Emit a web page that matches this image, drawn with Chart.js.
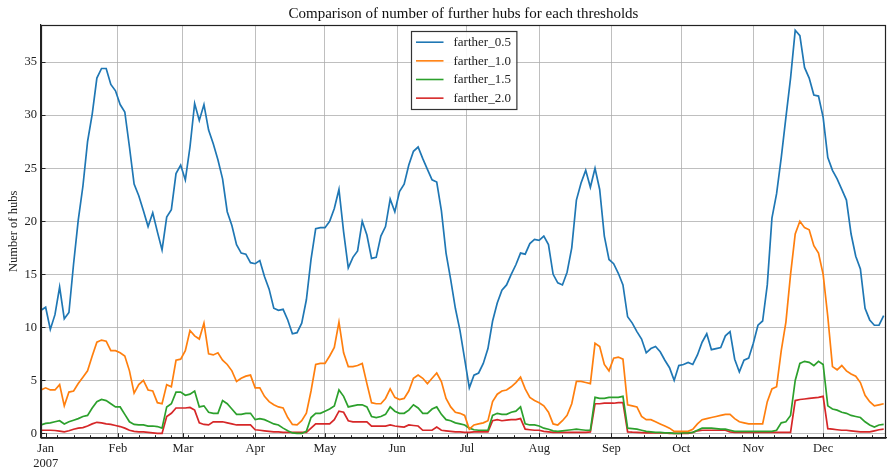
<!DOCTYPE html>
<html>
<head>
<meta charset="utf-8">
<title>Comparison of number of further hubs for each thresholds</title>
<script src="https://cdn.jsdelivr.net/npm/chart.js@4.4.1/dist/chart.umd.min.js"></script>
<style>
  html, body { margin: 0; padding: 0; background: #fff; }
  canvas { display: block; }
</style>
</head>
<body>
<canvas id="hubsChart" width="887" height="468"></canvas>
<script>
// one reading every second day, day 0 = 1 Jan 2007
const firstDay = -2;
const dayStep = 2;

const farther05 = [
    11.6, 11.9, 9.8, 11.2, 13.8, 10.8, 11.4, 16.0, 20.1, 23.3,
    27.5, 30.1, 33.5, 34.4, 34.4, 32.9, 32.3, 31.0, 30.3, 27.0,
    23.5, 22.4, 21.0, 19.5, 20.8, 19.0, 17.3, 20.4, 21.1, 24.5,
    25.3, 23.9, 27.0, 31.1, 29.5, 31.0, 28.6, 27.3, 25.8, 24.0,
    20.9, 19.6, 17.8, 17.0, 16.9, 16.1, 16.0, 16.3, 14.8, 13.6,
    11.8, 11.6, 11.7, 10.7, 9.4, 9.5, 10.4, 12.6, 16.4, 19.3,
    19.4, 19.4, 20.0, 21.2, 23.0, 19.0, 15.6, 16.6, 17.2, 20.0,
    18.7, 16.5, 16.6, 18.6, 19.5, 22.1, 20.9, 22.8, 23.5, 25.3,
    26.6, 27.0, 25.9, 24.9, 23.9, 23.7, 21.0, 17.0, 14.5, 11.8,
    9.7, 7.0, 4.3, 5.5, 5.7, 6.6, 8.0, 10.6, 12.3, 13.5,
    14.0, 15.0, 15.9, 17.0, 16.9, 17.9, 18.3, 18.2, 18.6, 17.8,
    15.0, 14.2, 14.0, 15.2, 17.5, 22.0, 23.6, 24.8, 23.2, 25.0,
    23.0, 18.6, 16.4, 16.0, 15.1, 14.0, 11.0, 10.4, 9.6, 8.9,
    7.6, 8.0, 8.2, 7.7, 6.9, 6.2, 5.0, 6.4, 6.5, 6.7,
    6.5, 7.4, 8.6, 9.4, 7.9, 8.0, 8.1, 9.2, 9.6, 7.0,
    5.8, 6.9, 7.1, 8.5, 10.2, 10.6, 14.0, 20.3, 22.6, 26.0,
    29.8, 33.5, 38.0, 37.5, 34.5, 33.5, 31.9, 31.8, 29.8, 26.0,
    24.8, 24.0, 23.0, 22.0, 18.8, 16.7, 15.5, 11.8, 10.7, 10.2,
    10.2, 11.1
];

const farther10 = [
    4.1, 4.3, 4.1, 4.1, 4.6, 2.6, 3.9, 4.0, 4.7, 5.3,
    5.9, 7.3, 8.6, 8.8, 8.7, 7.8, 7.8, 7.6, 7.3, 5.9,
    3.8, 4.6, 5.0, 4.1, 4.0, 2.9, 2.8, 4.6, 4.4, 6.9,
    7.0, 7.8, 9.7, 9.2, 8.9, 10.4, 7.5, 7.4, 7.6, 6.9,
    6.5, 5.9, 4.9, 5.2, 5.4, 5.5, 4.3, 4.3, 3.5, 3.0,
    2.7, 2.5, 2.4, 1.5, 0.85, 0.8, 1.2, 1.9, 4.0, 6.5,
    6.6, 6.6, 7.3, 8.1, 10.5, 7.6, 6.3, 6.3, 6.4, 6.6,
    4.7, 2.9, 2.8, 2.8, 3.3, 4.2, 3.4, 3.2, 3.3, 4.0,
    5.2, 5.5, 5.2, 4.7, 5.2, 5.7, 4.9, 3.3, 2.5, 2.0,
    1.9, 1.7, 0.4, 0.8, 0.9, 1.0, 1.2, 3.0, 3.7, 4.0,
    4.1, 4.4, 4.8, 5.3, 4.2, 3.4, 3.1, 2.9, 2.6, 2.0,
    0.9, 0.8, 1.2, 1.7, 2.8, 4.9, 4.9, 4.8, 4.7, 8.5,
    8.2, 6.5, 5.9, 7.1, 7.2, 7.0, 2.7, 2.6, 2.5, 1.6,
    1.3, 1.3, 1.1, 0.9, 0.7, 0.5, 0.2, 0.2, 0.2, 0.2,
    0.4, 0.9, 1.3, 1.4, 1.5, 1.6, 1.7, 1.8, 1.8, 1.4,
    1.1, 1.0, 0.9, 0.9, 0.9, 0.9, 3.0, 4.2, 4.4, 7.8,
    10.5, 15.0, 18.8, 20.0, 19.4, 19.2, 17.7, 17.0, 15.0, 11.0,
    6.3, 6.0, 6.4, 5.9, 5.6, 5.4, 4.8, 3.6, 3.0, 2.6,
    2.7, 2.8
];

const farther15 = [
    0.8, 0.95, 1.0, 1.1, 1.2, 0.9, 1.1, 1.25, 1.4, 1.6,
    1.7, 2.4, 3.0, 3.2, 3.1, 2.8, 2.5, 2.5, 1.8, 1.1,
    0.85, 0.8, 0.8, 0.7, 0.7, 0.65, 0.5, 2.5, 2.8, 3.9,
    3.9, 3.6, 3.7, 4.0, 2.5, 2.6, 2.0, 1.9, 1.9, 3.1,
    2.8, 2.3, 1.8, 1.8, 1.9, 1.9, 1.3, 1.4, 1.3, 1.1,
    0.9, 0.8, 0.5, 0.25, 0.05, 0.0, 0.0, 0.2, 1.5, 1.9,
    1.9, 2.1, 2.3, 2.6, 4.1, 3.5, 2.5, 2.6, 2.7, 2.7,
    2.5, 1.6, 1.5, 1.6, 1.8, 2.5, 2.1, 1.9, 1.9, 2.2,
    2.7, 2.4, 1.9, 1.9, 2.3, 2.5, 1.8, 1.3, 1.2, 1.0,
    0.9, 0.8, 0.5, 0.35, 0.3, 0.3, 0.3, 1.7, 1.9, 1.8,
    1.8, 2.0, 2.1, 2.5, 0.9, 0.8, 0.8, 0.7, 0.5, 0.4,
    0.25, 0.2, 0.25, 0.3, 0.35, 0.4, 0.35, 0.3, 0.3, 3.4,
    3.3, 3.3, 3.4, 3.4, 3.4, 3.5, 0.5, 0.45, 0.4, 0.3,
    0.2, 0.15, 0.1, 0.1, 0.05, 0.05, 0.0, 0.0, 0.05, 0.05,
    0.1, 0.3, 0.5, 0.5, 0.5, 0.45, 0.4, 0.4, 0.3, 0.2,
    0.2, 0.2, 0.2, 0.2, 0.2, 0.2, 0.2, 0.2, 0.3, 1.0,
    1.1, 1.7, 5.0, 6.6, 6.8, 6.7, 6.4, 6.8, 6.5, 2.6,
    2.3, 2.2, 2.0, 1.9, 1.7, 1.6, 1.5, 1.1, 0.8, 0.6,
    0.8, 0.85
];

const farther20 = [
    0.3, 0.3, 0.3, 0.28, 0.22, 0.15, 0.25, 0.4, 0.5, 0.55,
    0.7, 0.9, 1.05, 1.0, 0.9, 0.85, 0.75, 0.65, 0.5, 0.3,
    0.2, 0.15, 0.15, 0.1, 0.05, 0.0, 0.0, 1.6, 1.9, 2.4,
    2.4, 2.4, 2.45, 2.2, 1.0, 0.85, 0.8, 1.1, 1.1, 1.1,
    1.0, 0.9, 0.8, 0.8, 0.8, 0.8, 0.35, 0.3, 0.25, 0.2,
    0.15, 0.15, 0.1, 0.1, 0.1, 0.1, 0.1, 0.1, 0.5, 0.9,
    0.9, 0.9, 0.9, 1.3, 2.1, 2.0, 1.2, 1.1, 1.1, 1.1,
    1.1, 0.7, 0.7, 0.7, 0.7, 0.8, 0.7, 0.65, 0.6, 0.8,
    0.75, 0.7, 0.3, 0.3, 0.3, 0.6, 0.3, 0.25, 0.2, 0.15,
    0.15, 0.1, 0.1, 0.15, 0.15, 0.15, 0.15, 1.2, 1.3, 1.2,
    1.25, 1.3, 1.3, 1.4, 0.4, 0.35, 0.3, 0.3, 0.2, 0.15,
    0.1, 0.1, 0.1, 0.1, 0.1, 0.1, 0.1, 0.1, 0.15, 2.8,
    2.8, 2.85, 2.85, 2.85, 2.9, 2.9, 0.15, 0.12, 0.1, 0.08,
    0.05, 0.05, 0.05, 0.05, 0.05, 0.0, 0.0, 0.0, 0.0, 0.0,
    0.1, 0.25, 0.3, 0.3, 0.3, 0.3, 0.3, 0.3, 0.15, 0.1,
    0.1, 0.1, 0.1, 0.1, 0.1, 0.1, 0.1, 0.1, 0.1, 0.1,
    0.1, 0.1, 3.1, 3.2, 3.25, 3.3, 3.35, 3.4, 3.5, 0.45,
    0.4, 0.35, 0.3, 0.3, 0.25, 0.2, 0.15, 0.15, 0.15, 0.25,
    0.35, 0.4
];

const seriesNames = ['farther_0.5', 'farther_1.0', 'farther_1.5', 'farther_2.0'];
const seriesColors = ['#1f77b4', '#ff7f0e', '#2ca02c', '#d62728'];

const monthLabels = ['Jan', 'Feb', 'Mar', 'Apr', 'May', 'Jun', 'Jul', 'Aug', 'Sep', 'Oct', 'Nov', 'Dec'];
const monthStarts = [0, 31, 59, 90, 120, 151, 181, 212, 243, 273, 304, 334];
const yearLabel = '2007';
const yTicks = [0, 5, 10, 15, 20, 25, 30, 35];

const serif = "'Liberation Serif', 'DejaVu Serif', 'Times New Roman', serif";
const days = farther05.map((_, i) => firstDay + i * dayStep);
const toPoints = (values) => values.map((v, i) => ({ x: days[i], y: v }));

// weekly minor ticks (Saturdays) plus inward major ticks and the full axes frame
const axesFrame = {
    id: 'axesFrame',
    afterDraw(chart) {
        const { ctx, chartArea } = chart;
        const xs = chart.scales.x;
        const ys = chart.scales.y;
        ctx.save();
        ctx.strokeStyle = '#222';
        ctx.lineWidth = 1;
        ctx.beginPath();
        for (let d = 5; d < xs.max; d += 7) {
            if (monthStarts.includes(d)) continue;
            const px = Math.round(xs.getPixelForValue(d)) + 0.5;
            ctx.moveTo(px, chartArea.bottom);
            ctx.lineTo(px, chartArea.bottom - 2.5);
        }
        monthStarts.forEach((d) => {
            const px = Math.round(xs.getPixelForValue(d)) + 0.5;
            ctx.moveTo(px, chartArea.bottom);
            ctx.lineTo(px, chartArea.bottom - 4.5);
        });
        yTicks.forEach((v) => {
            const py = Math.round(ys.getPixelForValue(v)) + 0.5;
            ctx.moveTo(chartArea.left, py);
            ctx.lineTo(chartArea.left + 4.5, py);
        });
        ctx.stroke();
        ctx.lineWidth = 1.2;
        ctx.strokeRect(chartArea.left + 0.5, chartArea.top + 0.5,
            chartArea.right - chartArea.left - 1, chartArea.bottom - chartArea.top);
        ctx.restore();
    }
};

// matplotlib-like framed legend at the upper centre of the axes
const boxLegend = {
    id: 'boxLegend',
    afterDatasetsDraw(chart) {
        const { ctx, chartArea } = chart;
        const sets = chart.data.datasets;
        ctx.save();
        ctx.font = `13px ${serif}`;
        const textW = Math.max(...sets.map(s => ctx.measureText(s.label).width));
        const padL = 4.5, lineLen = 27.5, gap = 10, padR = 6, rowH = 18.65;
        const w = padL + lineLen + gap + textW + padR;
        const h = 78;
        const left = Math.round((chartArea.left + chartArea.right) / 2 - w / 2) + 0.5;
        const top = chartArea.top + 6.5;
        ctx.fillStyle = 'rgba(255,255,255,0.9)';
        ctx.fillRect(left, top, w, h);
        ctx.strokeStyle = '#333';
        ctx.lineWidth = 1.2;
        ctx.strokeRect(left, top, w, h);
        sets.forEach((s, i) => {
            const cy = top + 10.7 + i * rowH;
            ctx.strokeStyle = s.borderColor;
            ctx.lineWidth = 1.6;
            ctx.beginPath();
            ctx.moveTo(left + padL, cy);
            ctx.lineTo(left + padL + lineLen, cy);
            ctx.stroke();
            ctx.fillStyle = '#222';
            ctx.textBaseline = 'middle';
            ctx.textAlign = 'left';
            ctx.fillText(s.label, left + padL + lineLen + gap, cy + 0.5);
        });
        ctx.restore();
    }
};

const seriesValues = [farther05, farther10, farther15, farther20];

new Chart(document.getElementById('hubsChart'), {
    type: 'line',
    data: {
        datasets: seriesValues.map((values, i) => ({
            label: seriesNames[i],
            data: toPoints(values),
            borderColor: seriesColors[i],
            backgroundColor: seriesColors[i],
            borderWidth: 1.7,
            pointRadius: 0,
            tension: 0,
            fill: false
        }))
    },
    options: {
        responsive: false,
        animation: false,
        devicePixelRatio: 1,
        layout: { padding: { left: 0, right: 1, top: 0, bottom: 0 } },
        plugins: {
            legend: { display: false },
            tooltip: { enabled: false },
            title: {
                display: true,
                text: 'Comparison of number of further hubs for each thresholds',
                fullSize: false,
                color: '#111',
                font: { family: serif, size: 15, weight: 'normal', lineHeight: 1.2 },
                padding: { top: 5, bottom: 2 }
            }
        },
        scales: {
            x: {
                type: 'linear',
                min: firstDay,
                max: 361,
                afterBuildTicks: (scale) => {
                    scale.ticks = monthStarts.map(v => ({ value: v }));
                },
                afterFit: (scale) => { scale.height = 30.3; },
                ticks: {
                    autoSkip: false,
                    maxRotation: 0,
                    padding: 4,
                    color: '#222',
                    font: { family: serif, size: 12.5, lineHeight: 1.15 },
                    callback: (value, index) => index === 0 ? [monthLabels[0], yearLabel] : monthLabels[index]
                },
                grid: {
                    drawTicks: false,
                    color: (c) => c.index === 0 ? 'rgba(0,0,0,0)' : 'rgba(170,170,170,0.75)',
                    lineWidth: 1
                },
                border: { display: true, color: '#222', width: 1.2 }
            },
            y: {
                type: 'linear',
                min: -0.4,
                max: 38.5,
                afterBuildTicks: (scale) => {
                    scale.ticks = yTicks.map(v => ({ value: v }));
                },
                afterFit: (scale) => { scale.width = 41; },
                ticks: {
                    padding: 4,
                    color: '#222',
                    font: { family: serif, size: 12.5 }
                },
                grid: {
                    drawTicks: false,
                    color: 'rgba(170,170,170,0.75)',
                    lineWidth: 1
                },
                border: { display: true, color: '#222', width: 1.2 },
                title: {
                    display: true,
                    text: 'Number of hubs',
                    color: '#222',
                    font: { family: serif, size: 12.5 },
                    padding: { top: 6, bottom: 0 }
                }
            }
        }
    },
    plugins: [boxLegend, axesFrame]
});
</script>
</body>
</html>
